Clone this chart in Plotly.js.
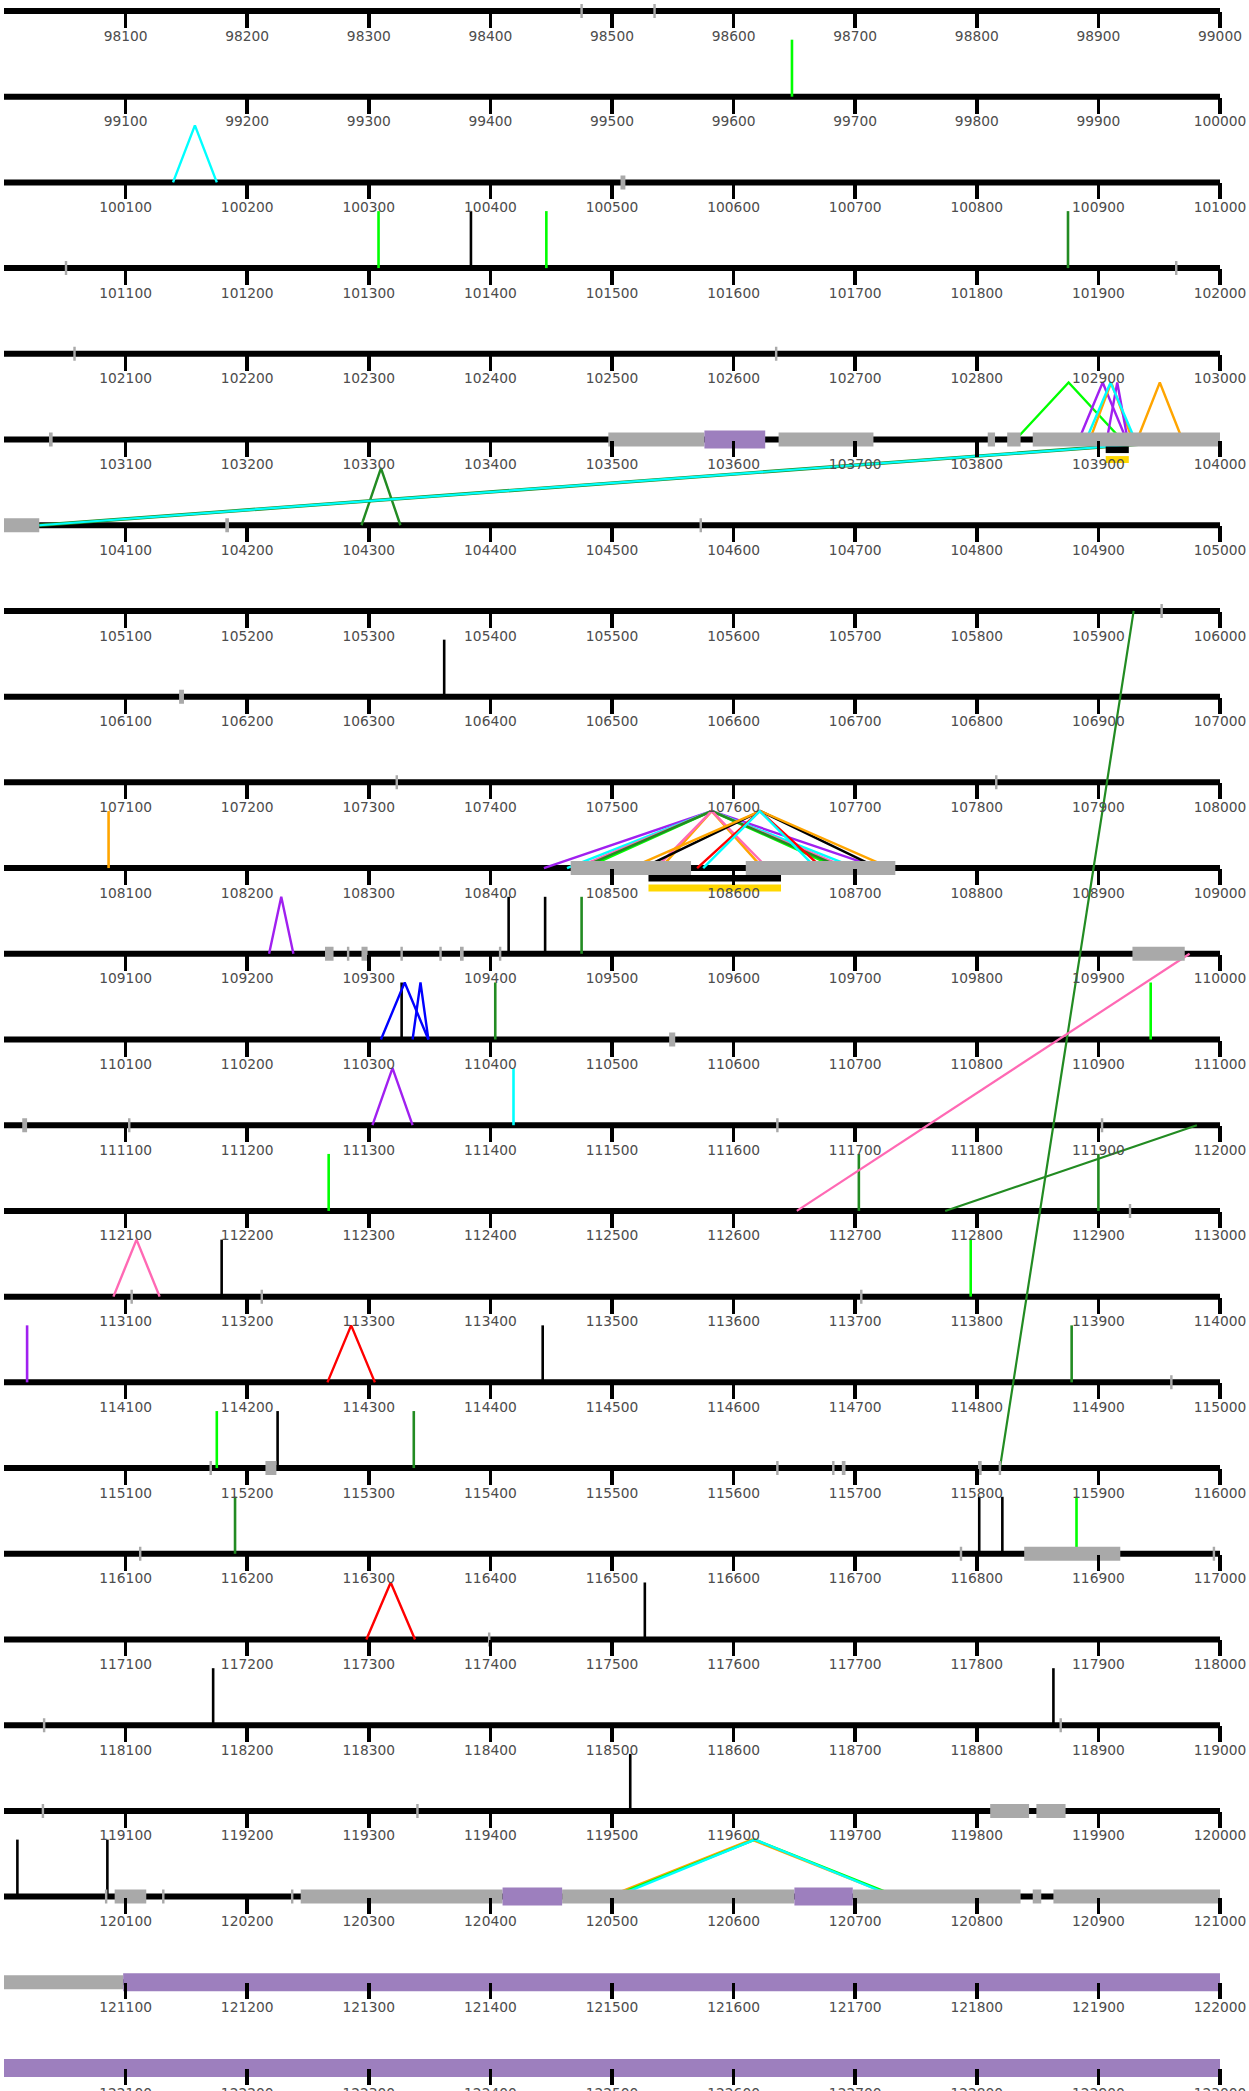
<!DOCTYPE html>
<html><head><meta charset="utf-8">
<script src="https://cdn.plot.ly/plotly-3.0.1.min.js"></script>
<style>html,body{margin:0;padding:0;background:#fff}#chart{width:1249px;height:2091px}</style>
</head><body><div id="chart"></div>
<script>
// ---------- DATA ----------
const rowStarts = [98000,99000,100000,101000,102000,103000,104000,105000,106000,107000,108000,109000,110000,
  111000,112000,113000,114000,115000,116000,117000,118000,119000,120000,121000,122000];
const rowSpan = 1000;
const tickStep = 100;

// grey features (start, end)
const grayStart = [98474,98534,100507,101050,101963,102057,102634,103037,103497,103637,103809,103825,103846,
  104000,104182,104572,105951,106144,107322,107815,108466,108610,
  109264,109282,109294,109326,109358,109375,109407,109928,110547,111015,111102,111635,111902,112925,
  113104,113211,113704,114959,115169,115215,115635,115681,115689,115801,115818,
  116111,116786,116839,116994,117398,118032,118868,119031,119339,119811,119849,
  120083,120091,120130,120236,120244,120459,120698,120846,120863];
const grayEnd = [98476,98536,100511,101052,101965,102059,102636,103040,103576,103715,103815,103836,104000,
  104029,104185,104574,105953,106148,107324,107817,108565,108733,
  109271,109284,109299,109328,109360,109378,109409,109971,110552,111019,111104,111637,111904,112927,
  113106,113213,113706,114961,115171,115224,115637,115683,115692,115804,115820,
  116113,116788,116918,116996,117400,118034,118870,119033,119341,119843,119873,
  120085,120117,120132,120238,120410,120650,120836,120853,121098];
// purple features
const purpleStart = [103576,120410,120650,121098];
const purpleEnd   = [103626,120459,120698,123000];
// bars under the track
const barStart = [103906,103906,108530,108530];
const barEnd   = [103925,103925,108639,108639];
const barColor = ['black','gold','black','gold'];
// single-position marks
const vlinePos = [99648,101308,101384,101446,101875,106362,108086,109415,109445,109475,110327,110404,110943,
  111419,112267,112703,112900,113179,113795,114019,114443,114878,115175,115225,115337,
  116190,116802,116821,116882,117527,118172,118863,119515,120011,120085];
const vlineColor = ['lime','lime','black','lime','forestgreen','black','orange','black','black','forestgreen',
  'black','forestgreen','lime','cyan','lime','forestgreen','forestgreen','black','lime','purple','black',
  'forestgreen','lime','black','forestgreen','forestgreen','black','black','lime','black','black','black',
  'black','black','black'];
// arcs within a row
const arcStart = [100139,103832,103884,103893,103907,103890,103932,104294,
  108444,108463,108470,108478,108474,108540,108536,108525,108515,108570,108575,
  109218,110310,110336,111303,113090,114266,117298,120497,120500,120503];
const arcEnd = [100175,103919,103923,103928,103924,103930,103969,104326,
  108720,108701,108694,108686,108690,108624,108628,108719,108729,108673,108668,
  109238,110349,110349,111336,113128,114305,117338,120733,120735,120732];
const arcColor = ['cyan','lime','purple','orange','purple','cyan','orange','forestgreen',
  'purple','cyan','hotpink','lime','forestgreen','orange','hotpink','black','orange','red','cyan',
  'purple','blue','blue','purple','hotpink','red','red','orange','lime','cyan'];
// links between distant positions
const linkFrom = [103986,103986,105929,109975,111981];
const linkTo   = [104029,104029,115819,112652,112774];
const linkColor = ['forestgreen','cyan','forestgreen','hotpink','forestgreen'];

// ---------- STYLE ----------
const COLORS = {lime:'#00ff00', black:'#000000', forestgreen:'#228b22', orange:'#ffa500', purple:'#a020f0',
  cyan:'#00ffff', hotpink:'#ff69b4', red:'#ff0000', blue:'#0000ff', gold:'#ffd700', gray:'#a9a9a9', violet:'#9d7fbe'};
const FEAT_H = 0.665;            // height of marks / arcs (row units)
const GRAY_H = 0.0817, PURPLE_H = 0.105;
const BAR_BAND = {black:[-0.158,-0.082], gold:[-0.274,-0.193]};
const Y_MAX = 0.128, Y_MIN = -24.268;

function rowOf(p){ return Math.min(rowStarts.length-1, Math.floor((p - rowStarts[0]) / rowSpan)); }

function boxTrace(starts, ends, half, color){
  const x=[], y=[];
  for(let k=0;k<starts.length;k++){
    let s=starts[k], e=ends[k], r=rowOf(s);
    while(r < rowStarts.length){
      const rs=rowStarts[r], re=rs+rowSpan;
      const a=s-rs, b=Math.min(e,re)-rs, yc=-r;
      x.push(a,b,b,a,a,null); y.push(yc-half,yc-half,yc+half,yc+half,yc-half,null);
      if(e<=re) break;
      s=re; r++;
    }
  }
  return {type:'scatter',mode:'lines',x,y,fill:'toself',fillcolor:color,line:{width:0,color:color},hoverinfo:'skip',showlegend:false};
}

const traces=[];
// baselines
{
  const x=[],y=[];
  rowStarts.forEach((rs,i)=>{x.push(0,rowSpan,null);y.push(-i,-i,null);});
  traces.push({type:'scatter',mode:'lines',x,y,line:{color:'#000',width:6},hoverinfo:'skip',showlegend:false});
}
function groupBy(colors){ const m={}; colors.forEach((c,k)=>{(m[c]=m[c]||[]).push(k);}); return m; }
// vertical marks
{
  const g=groupBy(vlineColor);
  Object.keys(g).forEach(c=>{
    const x=[],y=[];
    g[c].forEach(k=>{const p=vlinePos[k], r=rowOf(p), l=p-rowStarts[r]; x.push(l,l,null); y.push(-r,-r+FEAT_H,null);});
    traces.push({type:'scatter',mode:'lines',x,y,line:{color:COLORS[c],width:2.6},hoverinfo:'skip',showlegend:false});
  });
}
// arcs
arcStart.forEach((s,k)=>{
  const e=arcEnd[k], r=rowOf(s), rs=rowStarts[r];
  traces.push({type:'scatter',mode:'lines',x:[s-rs,(s+e)/2-rs,e-rs],y:[-r,-r+FEAT_H,-r],
    line:{color:COLORS[arcColor[k]],width:2.4},hoverinfo:'skip',showlegend:false});
});
// links
linkFrom.forEach((s,k)=>{
  const e=linkTo[k], r1=rowOf(s), r2=rowOf(e);
  traces.push({type:'scatter',mode:'lines',x:[s-rowStarts[r1],e-rowStarts[r2]],y:[-r1,-r2],
    line:{color:COLORS[linkColor[k]],width:k===0?3.4:2.2},hoverinfo:'skip',showlegend:false});
});
// boxes
traces.push(boxTrace(grayStart,grayEnd,GRAY_H,COLORS.gray));
traces.push(boxTrace(purpleStart,purpleEnd,PURPLE_H,COLORS.violet));
// bars
barStart.forEach((s,k)=>{
  const r=rowOf(s), rs=rowStarts[r], band=BAR_BAND[barColor[k]];
  const a=s-rs, b=barEnd[k]-rs, y0=-r+band[0], y1=-r+band[1];
  traces.push({type:'scatter',mode:'lines',x:[a,b,b,a,a],y:[y0,y0,y1,y1,y0],fill:'toself',
    fillcolor:COLORS[barColor[k]],line:{width:0,color:COLORS[barColor[k]]},hoverinfo:'skip',showlegend:false});
});

const layout = {
  width:1249, height:2091, margin:{l:4,r:29,t:0,b:0,pad:0},
  paper_bgcolor:'#fff', plot_bgcolor:'#fff', showlegend:false,
  xaxis:{range:[0,rowSpan],visible:false,fixedrange:true},
  yaxis:{range:[Y_MIN,Y_MAX],visible:false,fixedrange:true}
};
// one labelled axis per row
rowStarts.forEach((rs,i)=>{
  const id = i+2;
  const tv=[]; for(let v=rs+tickStep; v<=rs+rowSpan; v+=tickStep) tv.push(v);
  layout['xaxis'+id] = {
    overlaying:'x', anchor:'free', position:(-i - Y_MIN)/(Y_MAX - Y_MIN), side:'bottom',
    range:[rs, rs+rowSpan], tickvals:tv, tickformat:'d', ticks:'outside', ticklen:16, tickwidth:3.5,
    tickcolor:'#000', showline:false, showgrid:false, zeroline:false, fixedrange:true,
    ticklabelstandoff:-4,
    tickfont:{family:'DejaVu Sans', size:13.8, color:'#4d4d4d'}
  };
  traces.unshift({type:'scatter',mode:'lines',x:[rs,rs+rowSpan],y:[0,0],xaxis:'x'+id,yaxis:'y',
    line:{width:0},opacity:0,hoverinfo:'skip',showlegend:false});
});

Plotly.newPlot('chart', traces, layout, {staticPlot:true, displayModeBar:false});
</script></body></html>
